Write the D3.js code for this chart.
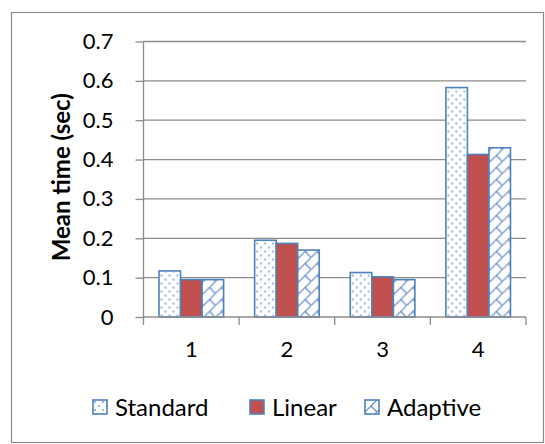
<!DOCTYPE html>
<html>
<head>
<meta charset="utf-8">
<script src="https://cdn.jsdelivr.net/npm/d3@7"></script>
<style>
  body { margin: 0; background: #fff; }
  text { font-family: Lato, "Open Sans", sans-serif; fill: #000; }
</style>
</head>
<body>
<div id="chart"></div>
<script>
// chart data
const categories = ["1", "2", "3", "4"];
const seriesNames = ["Standard", "Linear", "Adaptive"];
const standardValues = [0.117, 0.195, 0.113, 0.583];
const linearValues = [0.095, 0.187, 0.102, 0.413];
const adaptiveValues = [0.095, 0.170, 0.095, 0.430];
const yTicks = [0, 0.1, 0.2, 0.3, 0.4, 0.5, 0.6, 0.7];

const W = 545, H = 444;
const margin = { top: 41.5, right: 19, bottom: 127, left: 143.5 };
const width = W - margin.left - margin.right,
    height = H - margin.top - margin.bottom;

const svg = d3.select("#chart").append("svg")
    .attr("width", W).attr("height", H);

// patterns
const defs = svg.append("defs");
const dots = defs.append("pattern")
    .attr("id", "dots").attr("patternUnits", "userSpaceOnUse")
    .attr("width", 8).attr("height", 8);
dots.append("rect").attr("width", 8).attr("height", 8).attr("fill", "#fff");
dots.append("circle").attr("cx", 2).attr("cy", 2).attr("r", 0.9).attr("fill", "#6d97cf");
dots.append("circle").attr("cx", 6).attr("cy", 6).attr("r", 0.9).attr("fill", "#6d97cf");

const brick = defs.append("pattern")
    .attr("id", "brick").attr("patternUnits", "userSpaceOnUse")
    .attr("width", 12).attr("height", 12);
brick.append("rect").attr("width", 12).attr("height", 12).attr("fill", "#fff");
brick.append("path")
    .attr("d", "M-1,13L13,-1M6,6L12,12")
    .attr("stroke", "#5b87c5").attr("stroke-width", 1.2).attr("fill", "none");

const fills = ["url(#dots)", "#c0504d", "url(#brick)"];

// outer frame
svg.append("rect")
    .attr("x", 11.5).attr("y", 12.5).attr("width", 532).attr("height", 430)
    .attr("fill", "none").attr("stroke", "#8c8c8c").attr("stroke-width", 1.2);

const g = svg.append("g")
    .attr("transform", "translate(" + margin.left + "," + margin.top + ")");

const x = d3.scaleBand().domain(categories).range([0, width]);
const xs = d3.scaleBand().domain(seriesNames)
    .range([0, x.bandwidth()]).paddingOuter(0.72).paddingInner(0);
const y = d3.scaleLinear().domain([0, 0.7]).range([height, 0]);

// gridlines
g.append("g").selectAll("line").data(yTicks.slice(1)).enter().append("line")
    .attr("x1", 0).attr("x2", width)
    .attr("y1", function(d) { return y(d); }).attr("y2", function(d) { return y(d); })
    .attr("stroke", "#8c8c8c").attr("stroke-width", 1.3);

// bars
const table = categories.map(function(c, i) {
    return { cat: c, vals: [standardValues[i], linearValues[i], adaptiveValues[i]] };
});
const group = g.append("g").selectAll("g").data(table).enter().append("g")
    .attr("transform", function(d) { return "translate(" + x(d.cat) + ",0)"; });
group.selectAll("rect")
    .data(function(d) { return d.vals.map(function(v, j) { return { name: seriesNames[j], v: v, j: j }; }); })
    .enter().append("rect")
    .attr("x", function(d) { return xs(d.name); })
    .attr("y", function(d) { return y(d.v); })
    .attr("width", xs.bandwidth())
    .attr("height", function(d) { return height - y(d.v); })
    .attr("fill", function(d) { return fills[d.j]; })
    .attr("stroke", "#4f81bd").attr("stroke-width", 1.6);

// y axis
const yAxis = g.append("g")
    .call(d3.axisLeft(y).tickValues(yTicks).tickSize(8).tickPadding(22)
        .tickFormat(function(d) { return d === 0 ? "0" : d3.format(".1f")(d); }));
yAxis.select(".domain").attr("stroke", "#8c8c8c").attr("stroke-width", 1.3).attr("d", "M0,0V" + height);
yAxis.selectAll(".tick line").attr("stroke", "#8c8c8c").attr("stroke-width", 1.3);
yAxis.selectAll("text").style("font-size", "22px").attr("fill", "#000");

// x axis
const xAxis = g.append("g").attr("transform", "translate(0," + height + ")")
    .call(d3.axisBottom(x).tickSize(0).tickPadding(24));
xAxis.select(".domain").attr("stroke", "#8c8c8c").attr("stroke-width", 1.3).attr("d", "M0,0H" + width);
xAxis.selectAll("text").style("font-size", "22px").attr("fill", "#000");
xAxis.append("g").selectAll("line").data(d3.range(categories.length + 1)).enter().append("line")
    .attr("x1", function(i) { return i * x.step(); }).attr("x2", function(i) { return i * x.step(); })
    .attr("y1", 0).attr("y2", 8)
    .attr("stroke", "#8c8c8c").attr("stroke-width", 1.3);

// y title
svg.append("text")
    .attr("transform", "translate(70," + (margin.top + height / 2 - 2) + ") rotate(-90)")
    .attr("text-anchor", "middle")
    .style("font-size", "24px").style("font-weight", "bold")
    .text("Mean time (sec)");

// legend
const legendX = [93, 250, 365];
const legend = svg.append("g").selectAll("g").data(seriesNames).enter().append("g")
    .attr("transform", function(d, i) { return "translate(" + legendX[i] + ",400)"; });
legend.append("rect")
    .attr("width", 14).attr("height", 14)
    .attr("fill", function(d, i) { return fills[i]; })
    .attr("stroke", "#4f81bd").attr("stroke-width", 1.6);
legend.append("text")
    .attr("x", 22).attr("y", 7).attr("dy", "0.36em")
    .style("font-size", "24px")
    .text(function(d) { return d; });
</script>
</body>
</html>
